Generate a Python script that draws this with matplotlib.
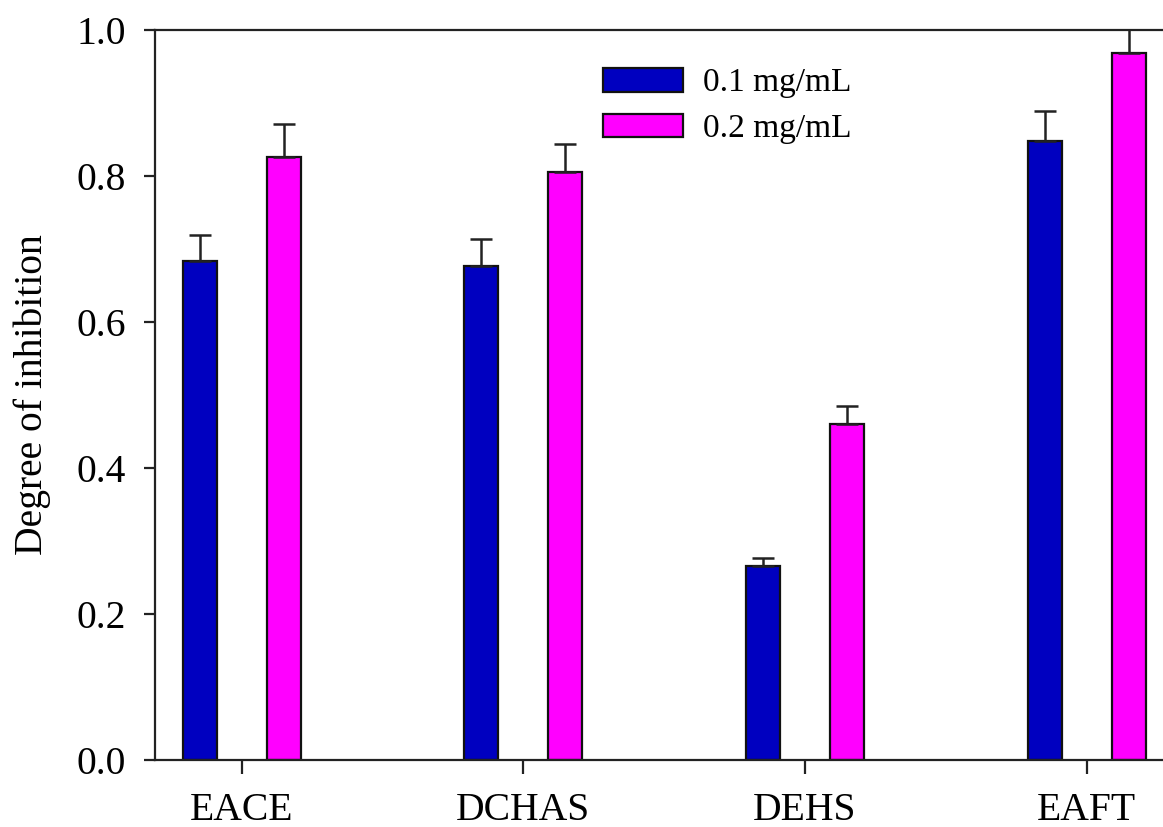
import numpy as np
import matplotlib.pyplot as plt

plt.rcParams['font.family'] = ['Liberation Serif', 'DejaVu Serif']

categories = ['EACE', 'DCHAS', 'DEHS', 'EAFT']
low_dose = [0.683, 0.677, 0.266, 0.848]
low_err = [0.036, 0.037, 0.011, 0.041]
high_dose = [0.826, 0.805, 0.460, 0.968]
high_err = [0.045, 0.039, 0.025, 0.040]
series_labels = ['0.1 mg/mL', '0.2 mg/mL']

fig = plt.figure(figsize=(11.63, 8.27), dpi=100)
ax = fig.add_axes([155 / 1163, 1 - 760 / 827, 1 - 155 / 1163, 730 / 827])

x = np.arange(1, len(categories) + 1)
w = 0.121
off = 0.149
ekw = dict(ecolor='#222222', elinewidth=1.8, capsize=8, capthick=1.8)
ax.bar(x - off, low_dose, w, yerr=[np.zeros(4), low_err], color='#0000c0',
       edgecolor='#111111', linewidth=1.6, error_kw=ekw, label=series_labels[0])
ax.bar(x + off, high_dose, w, yerr=[np.zeros(4), high_err], color='#ff00ff',
       edgecolor='#111111', linewidth=1.6, error_kw=ekw, label=series_labels[1])

ax.set_xlim(0.692, 4.271)
ax.set_ylim(0, 1.0)
ax.set_xticks(x)
ax.set_xticklabels(categories)
ax.set_yticks([0, 0.2, 0.4, 0.6, 0.8, 1.0])
ax.set_yticklabels(['0.0', '0.2', '0.4', '0.6', '0.8', '1.0'])
ax.tick_params(axis='both', direction='out', labelsize=28.5, width=1.6, color='#222222')
ax.tick_params(axis='y', length=8, pad=13)
ax.tick_params(axis='x', length=10, pad=13)
ax.spines['right'].set_visible(False)
for s in ['left', 'bottom', 'top']:
    ax.spines[s].set_linewidth(1.6)
    ax.spines[s].set_color('#222222')

ax.set_ylabel('Degree of inhibition', fontsize=28.5, labelpad=18)

fig.legend(loc='upper left', bbox_to_anchor=(603 / 1163, 1 - 68 / 827),
           frameon=False, fontsize=24, handlelength=2.4, handleheight=0.7,
           handletextpad=0.6, labelspacing=0.45, borderpad=0, borderaxespad=0)

fig.savefig('out.png', dpi=100)
